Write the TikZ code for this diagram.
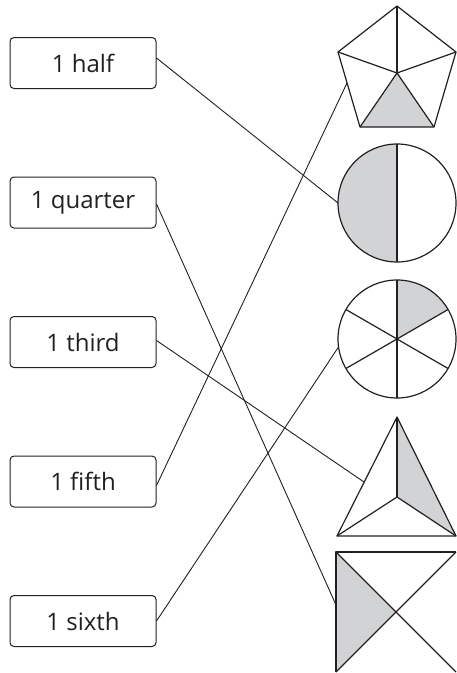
\documentclass[tikz,border=0pt]{standalone}
\usepackage{fontspec}
\setmainfont{Open Sans}
\usetikzlibrary{positioning}
\definecolor{ink}{HTML}{231F20}
\definecolor{partgrey}{HTML}{D1D3D4}

\begin{document}
\begin{tikzpicture}[
  x=1pt, y=1pt,
  node distance=87.5pt,
  namebox/.style={draw=ink, rounded corners=4pt, line width=1pt, minimum width=146pt, minimum height=51pt, inner sep=0pt, text=ink, font=\fontsize{24}{28}\selectfont},
  link/.style={draw=ink, line width=0.9pt},
  fig/.style={draw=ink, line width=1.2pt, line join=round}
]
  \useasboundingbox (0,0) rectangle (457,-673);

  % fraction names
  \node[namebox] (half) at (83,-63) {1 half};
  \node[namebox, below=of half] (quarter) {1 quarter};
  \node[namebox, below=of quarter] (third) {1 third};
  \node[namebox, below=of third] (fifth) {1 fifth};
  \node[namebox, below=of fifth] (sixth) {1 sixth};

  % pentagon, 1 of 5 shaded
  \coordinate (pc) at (397,-73);
  \fill[partgrey] (pc) -- (360,-127) -- (434,-127) -- cycle;
  \draw[fig] (397,-6) -- (456,-52) -- (434,-127) -- (360,-127) -- (338,-52) -- cycle;
  \foreach \p in {(397,-6),(456,-52),(434,-127),(360,-127),(338,-52)}
    \draw[fig] (pc) -- \p;
  \coordinate (pentpt) at (347,-83);

  % circle in halves
  \coordinate (hc) at (397,-203);
  \fill[partgrey] (397,-144) arc (90:270:59) -- cycle;
  \draw[fig] (hc) circle (59);
  \draw[fig] (397,-144) -- (397,-262);
  \coordinate (halfpt) at (338,-203);

  % circle in sixths
  \coordinate (sc) at (397,-339);
  \fill[partgrey] (sc) -- ++(90:59) arc (90:30:59) -- cycle;
  \draw[fig] (sc) circle (59);
  \foreach \a in {30,90,...,330}
    \draw[fig] (sc) -- ++(\a:59);
  \coordinate (sixpt) at (338.5,-347);

  % triangle in thirds
  \coordinate (tc) at (397,-497);
  \fill[partgrey] (397,-417) -- (tc) -- (456,-536) -- cycle;
  \draw[fig] (397,-417) -- (456,-536) -- (337,-536) -- cycle;
  \foreach \p in {(397,-417),(456,-536),(337,-536)}
    \draw[fig] (tc) -- \p;
  \coordinate (tript) at (364,-482);

  % square in quarters (cut off at right and bottom)
  \coordinate (qc) at (396,-612);
  \fill[partgrey] (336,-552) -- (qc) -- (336,-672) -- cycle;
  \draw[fig] (456,-552) -- (336,-552) -- (336,-672);
  \draw[fig] (336,-552) -- (456,-672);
  \draw[fig] (456,-552) -- (336,-672);
  \coordinate (quadpt) at (336,-605);

  % matching lines
  \draw[link] ([yshift=5pt]half.east) -- (halfpt);
  \draw[link] ([yshift=-1.5pt]quarter.east) -- (quadpt);
  \draw[link] ([yshift=1.5pt]third.east) -- (tript);
  \draw[link] ([yshift=-4pt]fifth.east) -- (pentpt);
  \draw[link] (sixth.east) -- (sixpt);
\end{tikzpicture}
\end{document}
